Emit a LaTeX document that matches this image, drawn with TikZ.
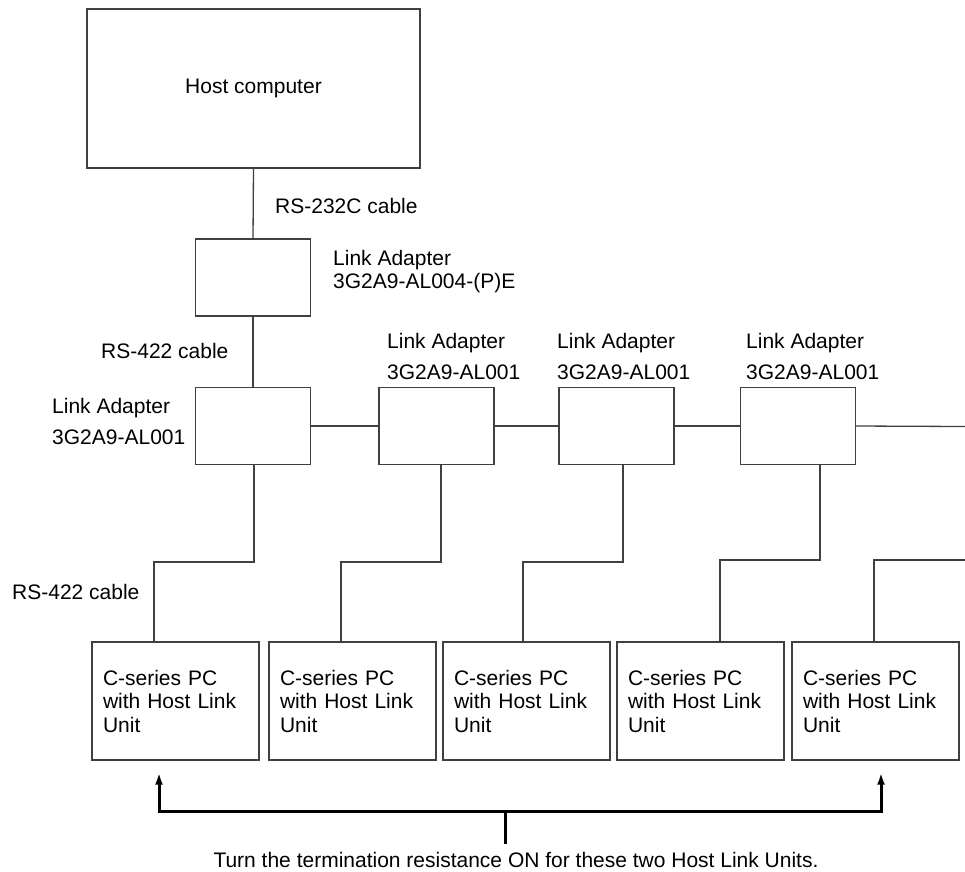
\documentclass[tikz,border=0pt]{standalone}
\usepackage{fontspec}
\setmainfont{Liberation Sans}
\usetikzlibrary{arrows.meta}
\begin{document}
\begin{tikzpicture}[x=1pt,y=-1pt,
  every node/.style={font=\fontsize{21}{23.5}\selectfont},
  wire/.style={draw=black!75,line width=1.3pt},
  boxa/.style={draw=black!75,line width=1.3pt,rectangle,inner sep=0pt},
  adapter/.style={boxa,minimum width=115pt,minimum height=77pt},
  pcbox/.style={boxa,minimum width=167pt,minimum height=118pt,text width=145pt,align=left,inner xsep=11pt},
  lbl/.style={anchor=base west,inner sep=0pt},
  termarrow/.style={draw=black,line width=3pt,{Latex[length=12pt,width=8pt]}-{Latex[length=12pt,width=8pt]}}
]
\useasboundingbox (0,0) rectangle (965,871);
% boxes
\node[boxa,minimum width=333pt,minimum height=159pt] (host) at (253.5,88.5) {\raisebox{-3pt}{Host computer}};
\node[adapter] (la0) at (253,277.5) {};
\node[adapter] (la1) at (253,426) {};
\node[adapter] (la2) at (436.5,426) {};
\node[adapter] (la3) at (616.5,426) {};
\node[adapter] (la4) at (798,426) {};
\node[pcbox] (pc1) at (175.5,701) {C-series PC\\with Host Link\\Unit};
\node[pcbox] (pc2) at (352.5,701) {C-series PC\\with Host Link\\Unit};
\node[pcbox] (pc3) at (526.5,701) {C-series PC\\with Host Link\\Unit};
\node[pcbox] (pc4) at (700.5,701) {C-series PC\\with Host Link\\Unit};
\node[pcbox] (pc5) at (875.5,701) {C-series PC\\with Host Link\\Unit};
% labels
\node[lbl] (l232) at (275,213.5) {RS-232C cable};
\node[lbl] (la0t) at (333,265) {Link Adapter};
\node[lbl] (la0m) at (333,288) {3G2A9-AL004-(P)E};
\node[lbl] (l422a) at (101,358.5) {RS-422 cable};
\node[lbl] (la1t) at (52,413.5) {Link Adapter};
\node[lbl] (la1m) at (52,444.5) {3G2A9-AL001};
\node[lbl] (la2t) at (387,348.5) {Link Adapter};
\node[lbl] (la2m) at (387,379.5) {3G2A9-AL001};
\node[lbl] (la3t) at (557,348.5) {Link Adapter};
\node[lbl] (la3m) at (557,379.5) {3G2A9-AL001};
\node[lbl] (la4t) at (746,348.5) {Link Adapter};
\node[lbl] (la4m) at (746,379.5) {3G2A9-AL001};
\node[lbl] (l422b) at (12,599.5) {RS-422 cable};
\node[anchor=base,inner sep=0pt] (note) at (516,867.5) {Turn the termination resistance ON for these two Host Link Units.};
% coordinates
\coordinate (j1) at (0,562);
\coordinate (j4) at (0,560);
\coordinate (e1) at (965,426.5);
\coordinate (e2) at (965,560);
\coordinate (hb) at (505,811);
\coordinate (stemend) at (505,844);
% connectors
\draw[wire] (host.south) -- (la0.north);
\draw[wire] (la0.south) -- (la1.north);
\draw[wire] (la1.east) -- (la2.west);
\draw[wire] (la2.east) -- (la3.west);
\draw[wire] (la3.east) -- (la4.west);
\draw[wire] (la4.east) -- (e1);
\draw[wire] ([xshift=1pt]la1.south) -- ([xshift=1pt]la1.south |- j1) -| ([xshift=-21.5pt]pc1.north);
\draw[wire] ([xshift=4.5pt]la2.south) -- ([xshift=4.5pt]la2.south |- j1) -| ([xshift=-11.5pt]pc2.north);
\draw[wire] ([xshift=6.5pt]la3.south) -- ([xshift=6.5pt]la3.south |- j1) -| ([xshift=-3.5pt]pc3.north);
\draw[wire] ([xshift=22pt]la4.south) -- ([xshift=22pt]la4.south |- j4) -| ([xshift=19.5pt]pc4.north);
\draw[wire] (e2) -| ([xshift=-1.5pt]pc5.north);
% termination arrow
\draw[termarrow] ([xshift=-16.5pt,yshift=-12pt]pc1.south) |- (hb) -| ([xshift=5.5pt,yshift=-12pt]pc5.south);
\draw[draw=black,line width=3pt] (hb) -- (stemend);
\end{tikzpicture}
\end{document}
